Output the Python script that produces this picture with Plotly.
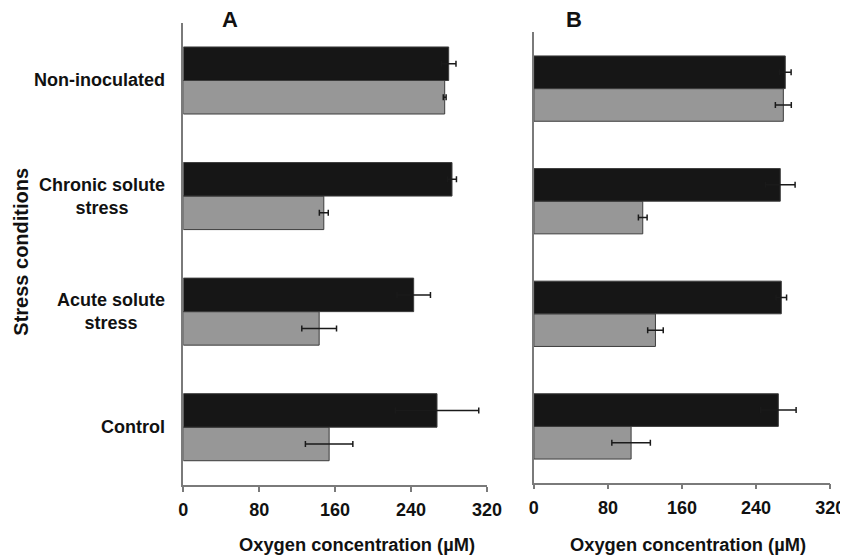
import plotly.graph_objects as go

# Figure size and mapping from reference-pixel positions to figure fractions
W, H = 862, 547
SX, CX = 0.978, 12.8   # observed horizontal mapping of the photographed page
OY = 8                 # page top margin


def px(x):
    return ((x - CX) / SX) / W


def py(y):
    return 1 - (y - OY) / H


categories = ["Control", "Acute solute stress", "Chronic solute stress", "Non-inoculated"]
category_labels = ["Control", "Acute solute<br>stress", "Chronic solute<br>stress", "Non-inoculated"]

# Panel A
a_gray = [153.7, 143.2, 148.1, 275.5]
a_gray_err = [25, 18.3, 4.7, 1.5]
a_black = [267.4, 242.8, 283.2, 279.7]
a_black_err = [44, 17.7, 4.7, 7.7]

# Panel B
b_gray = [105, 131.3, 117.6, 269.4]
b_gray_err = [20.8, 8.4, 4.7, 8.6]
b_black = [264, 267.2, 266.1, 271.5]
b_black_err = [19.2, 5.7, 16, 6.3]

x_ticks = [0, 80, 160, 240, 320]

FONT = "Liberation Sans, Arial, sans-serif"
GRAY = "#979797"
BLACK = "#161616"
AXC = "#7a7a7a"


def bar(vals, errs, color, xa, ya):
    return go.Bar(
        y=categories, x=vals, orientation="h",
        xaxis=xa, yaxis=ya,
        marker=dict(color=color, line=dict(color="#3c3c3c", width=1)),
        error_x=dict(type="data", array=errs, visible=True,
                     color="#1a1a1a", thickness=1.5, width=3),
        showlegend=False,
    )


fig = go.Figure()
fig.add_trace(bar(a_gray, a_gray_err, GRAY, "x", "y"))
fig.add_trace(bar(a_black, a_black_err, BLACK, "x", "y"))
fig.add_trace(bar(b_gray, b_gray_err, GRAY, "x2", "y2"))
fig.add_trace(bar(b_black, b_black_err, BLACK, "x2", "y2"))

xcommon = dict(range=[0, 320], tickvals=x_ticks, ticktext=[str(t) for t in x_ticks],
               showline=True, linecolor=AXC, linewidth=1.5, ticks="outside",
               tickcolor=AXC, ticklen=5, tickwidth=1.5, showgrid=False, zeroline=False,
               ticklabelstandoff=3,
               tickfont=dict(family=FONT, size=18, color="#111", weight="bold"))
ycommon = dict(showline=True, linecolor=AXC, linewidth=1.5, ticks="", showgrid=False,
               zeroline=False, showticklabels=False, categoryorder="array",
               categoryarray=categories)

fig.update_layout(
    width=W, height=H, autosize=False,
    margin=dict(l=0, r=0, t=0, b=0),
    paper_bgcolor="white", plot_bgcolor="white",
    barmode="group", bargap=0.42, bargroupgap=0,
    xaxis=dict(domain=[px(183.3), px(487.3)], anchor="y", **xcommon),
    yaxis=dict(domain=[py(485), py(22.7)], anchor="x", **ycommon),
    xaxis2=dict(domain=[px(534.3), px(831)], anchor="y2", **xcommon),
    yaxis2=dict(domain=[py(482.7), py(32.3)], anchor="x2", **ycommon),
)

ann = []
for c, lab in zip(categories, category_labels):
    ann.append(dict(x=px(167), xref="paper", y=c, yref="y", text=lab,
                    xanchor="right", yanchor="middle", align="center", showarrow=False,
                    font=dict(family=FONT, size=18, color="#111", weight="bold")))
ann.append(dict(x=px(20.5), xref="paper", y=py(252), yref="paper",
                text="Stress conditions", textangle=-90, showarrow=False,
                xanchor="center", yanchor="middle",
                font=dict(family=FONT, size=20, color="#111", weight="bold")))
for cx in (357.6, 689):
    ann.append(dict(x=px(cx), xref="paper", y=py(544), yref="paper",
                    text="Oxygen concentration (µM)", showarrow=False,
                    xanchor="center", yanchor="middle",
                    font=dict(family=FONT, size=18.3, color="#111", weight="bold")))
ann.append(dict(x=px(229.7), xref="paper", y=py(19.5), yref="paper",
                text="A", showarrow=False, xanchor="center", yanchor="middle",
                font=dict(family=FONT, size=22, color="#111", weight="bold")))
ann.append(dict(x=px(574), xref="paper", y=py(20), yref="paper",
                text="B", showarrow=False, xanchor="center", yanchor="middle",
                font=dict(family=FONT, size=22, color="#111", weight="bold")))
fig.update_layout(annotations=ann)

fig.write_html("out.html")
